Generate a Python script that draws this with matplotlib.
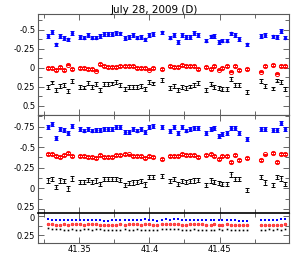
import matplotlib
matplotlib.use("Agg")
import matplotlib.pyplot as plt
import matplotlib.transforms as mtransforms
from matplotlib.ticker import MultipleLocator, FuncFormatter, FixedLocator

plt.rcParams['font.family'] = ['DejaVu Sans']
plt.rcParams['axes.unicode_minus'] = False

title = "July 28, 2009 (D)"

# observation times (panels 1 and 2)
t = [41.3276, 41.3305, 41.3334, 41.3364, 41.3393, 41.3421, 41.3450,
     41.3507, 41.3536, 41.3564, 41.3593, 41.3621, 41.3650, 41.3679, 41.3707, 41.3736,
     41.3764, 41.3793, 41.3824, 41.3852, 41.3881, 41.3909, 41.3938, 41.3966, 41.3998, 41.4026,
     41.4088,
     41.4145, 41.4174, 41.4202, 41.4231, 41.4259, 41.4288, 41.4316, 41.4345,
     41.4407, 41.4436, 41.4464, 41.4493, 41.4521, 41.4550, 41.4579, 41.4607, 41.4636,
     41.4693,
     41.4798, 41.4826, 41.4883, 41.4912, 41.4941, 41.4969]

# panel 1
p1_blue = [-0.42, -0.47, -0.31, -0.42, -0.39, -0.375, -0.46,
           -0.41, -0.40, -0.43, -0.40, -0.40, -0.42, -0.445, -0.45, -0.45, -0.46, -0.455, -0.39, -0.41,
           -0.43, -0.40, -0.41, -0.375, -0.43, -0.445,
           -0.467,
           -0.40, -0.43, -0.34, -0.43, -0.406, -0.406, -0.46, -0.437,
           -0.36, -0.415, -0.42, -0.34, -0.36, -0.36, -0.455, -0.43, -0.38,
           -0.31,
           -0.42, -0.43, -0.415, -0.41, -0.49, -0.40]
p1_red = [-0.004, 0.0, 0.026, -0.009, 0.026, -0.044, 0.017,
          0.0, 0.0, 0.013, 0.013, 0.035, -0.057, -0.026, -0.017, -0.009, -0.017, -0.026, -0.03, -0.022,
          -0.026, -0.004, 0.0, 0.0, 0.022, -0.004,
          0.017,
          -0.022, -0.013, -0.009, -0.035, -0.026, -0.026, -0.03, 0.017,
          -0.009, 0.009, -0.026, 0.022, -0.004, -0.026, 0.048, -0.022, 0.026,
          0.013,
          0.048, -0.02, -0.035, 0.074, -0.026, -0.022]
p1_black = [0.253, 0.192, 0.288, 0.236, 0.231, 0.31, 0.17,
            0.249, 0.258, 0.197, 0.253, 0.214, 0.288, 0.214, 0.214, 0.205, 0.188, 0.227, 0.279, 0.253,
            0.253, 0.253, 0.24, 0.279, 0.183, 0.205,
            0.162,
            0.266, 0.236, 0.288, 0.253, 0.262, 0.245, 0.227, 0.197,
            0.288, 0.21, 0.253, 0.262, 0.275, 0.279, 0.14, 0.227, 0.227,
            0.323,
            0.175, 0.24, 0.271, 0.166, 0.183, 0.279]

# panel 2
p2_blue = [-0.742, -0.782, -0.613, -0.726, -0.71, -0.677, -0.758,
           -0.718, -0.702, -0.726, -0.702, -0.71, -0.71, -0.726, -0.726, -0.726, -0.75, -0.75, -0.685, -0.685,
           -0.726, -0.702, -0.718, -0.685, -0.742, -0.758,
           -0.75,
           -0.694, -0.742, -0.669, -0.742, -0.702, -0.726, -0.734, -0.734,
           -0.669, -0.718, -0.734, -0.637, -0.661, -0.669, -0.734, -0.734, -0.669,
           -0.597,
           -0.726, -0.726, -0.71, -0.71, -0.79, -0.718]
p2_red = [-0.415, -0.415, -0.387, -0.375, -0.4, -0.435, -0.395,
          -0.395, -0.387, -0.379, -0.375, -0.363, -0.4, -0.379, -0.379, -0.383, -0.4, -0.403, -0.419, -0.411,
          -0.395, -0.395, -0.395, -0.371, -0.387, -0.379,
          -0.355,
          -0.387, -0.387, -0.395, -0.419, -0.403, -0.403, -0.403, -0.379,
          -0.403, -0.419, -0.387, -0.355, -0.395, -0.395, -0.323, -0.403, -0.339,
          -0.371,
          -0.347, -0.411, -0.427, -0.315, -0.419, -0.419]
p2_black = [-0.097, -0.113, -0.016, -0.097, -0.089, 0.0, -0.121,
            -0.081, -0.081, -0.105, -0.081, -0.097, -0.056, -0.113, -0.113, -0.113, -0.113, -0.105, -0.04, -0.065,
            -0.073, -0.081, -0.089, -0.048, -0.137, -0.137,
            -0.153,
            -0.089, -0.113, -0.056, -0.089, -0.081, -0.089, -0.097, -0.105,
            -0.04, -0.097, -0.081, -0.065, -0.056, -0.056, -0.169, -0.113, -0.113,
            0.016,
            -0.137, -0.073, -0.04, -0.137, -0.121, -0.056]

# panel 3 (full sampling)
t3 = [41.3276, 41.3305, 41.3334, 41.3364, 41.3393, 41.3421, 41.3450, 41.3479, 41.3507, 41.3536,
      41.3564, 41.3593, 41.3621, 41.3650, 41.3679, 41.3707, 41.3736, 41.3764, 41.3793, 41.3824,
      41.3852, 41.3881, 41.3909, 41.3938, 41.3966, 41.3998, 41.4026, 41.4057, 41.4088, 41.4116,
      41.4145, 41.4174, 41.4202, 41.4231, 41.4259, 41.4288, 41.4316, 41.4345, 41.4376, 41.4407,
      41.4436, 41.4464, 41.4493, 41.4521, 41.4550, 41.4579, 41.4607, 41.4636, 41.4664, 41.4693,
      41.4798, 41.4826, 41.4855, 41.4883, 41.4912, 41.4941, 41.4969]
p3_blue = [0.035, 0.048, 0.048, 0.052, 0.056, 0.056, 0.056, 0.052, 0.048, 0.056,
           0.056, 0.048, 0.052, 0.060, 0.065, 0.065, 0.060, 0.056, 0.056, 0.052,
           0.048, 0.056, 0.060, 0.056, 0.043, 0.048, 0.052, 0.065, 0.052, 0.043,
           0.052, 0.039, 0.043, 0.052, 0.060, 0.056, 0.052, 0.048, 0.052, 0.056,
           0.060, 0.048, 0.056, 0.060, 0.052, 0.056, 0.060, 0.065, 0.065, 0.065,
           0.056, 0.056, 0.060, 0.056, 0.048, 0.043, 0.039]
p3_red = [0.100, 0.108, 0.112, 0.112, 0.108, 0.112, 0.108, 0.100, 0.108, 0.112,
          0.108, 0.108, 0.108, 0.112, 0.121, 0.117, 0.112, 0.112, 0.108, 0.112,
          0.108, 0.104, 0.108, 0.112, 0.104, 0.108, 0.117, 0.112, 0.104, 0.100,
          0.108, 0.100, 0.104, 0.112, 0.117, 0.108, 0.104, 0.108, 0.108, 0.112,
          0.117, 0.108, 0.112, 0.112, 0.108, 0.112, 0.117, 0.112, 0.117, 0.117,
          0.112, 0.117, 0.121, 0.117, 0.112, 0.112, 0.108]
p3_black = [0.160, 0.172, 0.168, 0.172, 0.177, 0.177, 0.172, 0.181, 0.177, 0.172,
            0.172, 0.177, 0.172, 0.168, 0.181, 0.185, 0.181, 0.181, 0.177, 0.172,
            0.177, 0.177, 0.172, 0.181, 0.177, 0.181, 0.181, 0.177, 0.172, 0.168,
            0.172, 0.168, 0.172, 0.177, 0.181, 0.177, 0.172, 0.177, 0.181, 0.177,
            0.181, 0.177, 0.172, 0.177, 0.172, 0.181, 0.177, 0.181, 0.185, 0.181,
            0.177, 0.181, 0.172, 0.177, 0.172, 0.177, 0.172]

yt1 = [-0.5, -0.25, 0, 0.25, 0.5]
yt2 = [-0.75, -0.5, -0.25, 0, 0.25]
yt3 = [0, 0.25]

err_blue = 0.024
err_red = 0.012
err_black = 0.026

fig = plt.figure(figsize=(3.05, 2.77), dpi=100)
L, W = 38 / 305, (289 - 38) / 305
def fy(px):
    return 1 - px / 277
ax1 = fig.add_axes([L, fy(115), W, fy(14) - fy(115)])
ax2 = fig.add_axes([L, fy(212.7), W, fy(115) - fy(212.7)])
ax3 = fig.add_axes([L, fy(242.7), W, fy(212.7) - fy(242.7)])

fmt = FuncFormatter(lambda v, p: "%g" % round(v, 4))

def style(ax, ylim, yticks, xlabels):
    ax.set_xlim(41.3207, 41.4995)
    ax.set_ylim(*ylim)
    ax.xaxis.set_major_locator(MultipleLocator(0.05))
    ax.xaxis.set_minor_locator(MultipleLocator(0.025))
    ax.yaxis.set_major_locator(FixedLocator(yticks))
    ax.yaxis.set_minor_locator(MultipleLocator(0.125))
    ax.yaxis.set_major_formatter(fmt)
    ax.xaxis.set_major_formatter(fmt)
    ax.tick_params(which='both', direction='in', top=True, right=True,
                   labelsize=6, color='0.3', width=0.6, pad=2)
    ax.tick_params(which='major', length=4)
    ax.tick_params(which='minor', length=3)
    if not xlabels:
        ax.tick_params(labelbottom=False)
    for s in ax.spines.values():
        s.set_color('0.35')
        s.set_linewidth(0.8)

def errs(ax, x, y, e, color, marker, ms, mfc, mec):
    ax.errorbar(x, y, yerr=e, fmt=marker, color=color, ms=ms, mfc=mfc, mec=mec,
                mew=0.7, elinewidth=0.6, capsize=1.2, capthick=0.6, ecolor=color)

for ax, b, r, k in ((ax1, p1_blue, p1_red, p1_black), (ax2, p2_blue, p2_red, p2_black)):
    errs(ax, t, b, err_blue, 'blue', 'o', 1.8, 'blue', 'blue')
    errs(ax, t, r, err_red, 'red', 'o', 3.0, 'none', 'red')
    errs(ax, t, k, err_black, 'black', '.', 1.0, 'black', 'black')

ax3.plot(t3, p3_blue, 's', color='blue', ms=1.7, mew=0)
ax3.plot(t3, p3_red, 'o', color='red', ms=2.0, mew=0.4, mfc='#ff5050', mec='red')
ax3.plot(t3, p3_black, 's', color='black', ms=1.2, mew=0)

style(ax1, (0.62, -0.71), yt1, False)
style(ax2, (0.295, -0.89), yt2, False)
style(ax3, (0.345, -0.04), yt3, True)
ax3.spines['top'].set_color('black')
ax3.spines['top'].set_linewidth(1.2)

fig.text(154 / 305, fy(10), title, ha='center', va='center', fontsize=7.5)

# nudge the two crowded labels at the panel 2/3 boundary apart
fig.canvas.draw()
up = mtransforms.ScaledTranslation(0, 0.022, fig.dpi_scale_trans)
down = mtransforms.ScaledTranslation(0, -0.015, fig.dpi_scale_trans)
ax2.get_yticklabels()[-1].set_transform(ax2.get_yticklabels()[-1].get_transform() + up)
ax3.get_yticklabels()[0].set_transform(ax3.get_yticklabels()[0].get_transform() + down)

fig.savefig("out.png", dpi=100)
